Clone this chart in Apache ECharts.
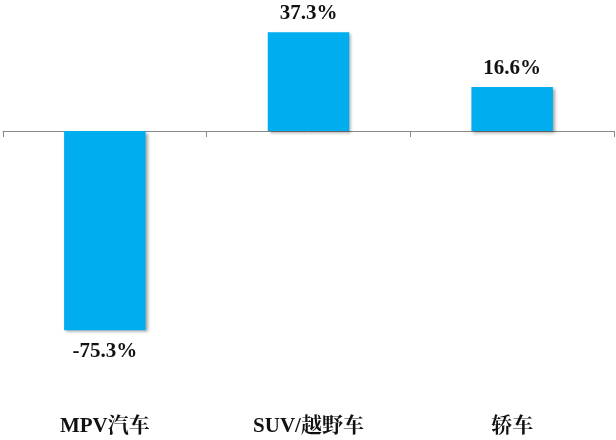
<!DOCTYPE html>
<html>
<head>
<meta charset="utf-8">
<script src="https://cdn.jsdelivr.net/npm/echarts@6/dist/echarts.min.js"></script>
<style>
html,body{margin:0;padding:0;background:#fff;}
#c{width:616px;height:440px;}
</style>
</head>
<body>
<div id="c"></div>
<script>
var categories = ['MPV汽车', 'SUV/越野车', '轿车'];
var values = [-75.3, 37.3, 16.6];

var chart = echarts.init(document.getElementById('c'));
var serif = '"Liberation Serif", "Times New Roman", "Noto Serif CJK SC", "Noto Sans CJK SC", serif';
var data = values.map(function (v) {
  return {
    value: v,
    label: {
      position: v >= 0 ? 'top' : 'bottom',
      distance: v >= 0 ? 8 : 11
    }
  };
});
chart.setOption({
  animation: false,
  backgroundColor: '#ffffff',
  grid: { left: 3, right: 2, top: 25.2, bottom: 97.4, containLabel: false },
  xAxis: [{
    type: 'category',
    data: categories,
    axisLine: { onZero: true, lineStyle: { color: '#888888', width: 1 } },
    axisTick: { show: true, length: 6, alignWithLabel: false, lineStyle: { color: '#888888' } },
    axisLabel: { show: false },
    splitLine: { show: false }
  }, {
    type: 'category',
    data: categories,
    position: 'bottom',
    axisLine: { show: false, onZero: false },
    axisTick: { show: false },
    axisLabel: {
      show: true,
      margin: 73,
      fontFamily: serif,
      fontWeight: 'bold',
      fontSize: 21,
      color: '#111111'
    }
  }],
  yAxis: {
    type: 'value',
    min: -80,
    max: 40,
    show: false,
    splitLine: { show: false }
  },
  series: [{
    type: 'bar',
    xAxisIndex: 0,
    data: data,
    barWidth: '40%',
    itemStyle: {
      color: '#00adef',
      shadowColor: 'rgba(0,0,0,0.35)',
      shadowBlur: 3,
      shadowOffsetX: 2,
      shadowOffsetY: 2
    },
    label: {
      show: true,
      formatter: function (p) { return p.value.toFixed(1) + '%'; },
      fontFamily: serif,
      fontWeight: 'bold',
      fontSize: 21,
      color: '#111111'
    }
  }]
});
</script>
</body>
</html>
